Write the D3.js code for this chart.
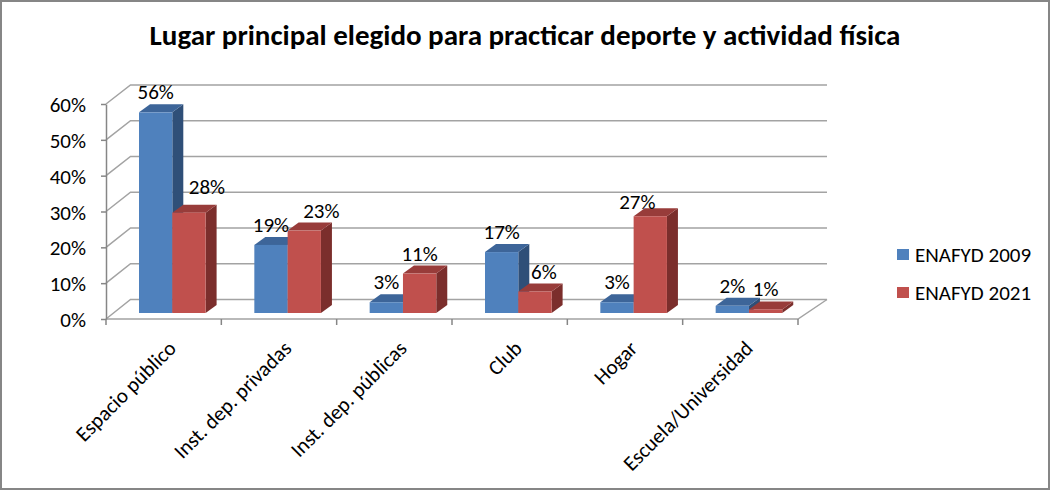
<!DOCTYPE html>
<html><head><meta charset="utf-8">
<script src="https://cdn.jsdelivr.net/npm/d3@7"></script>
<style>body{margin:0;background:#fff}</style>
</head><body><svg id="c" width="1051" height="491"></svg>
<script>
const categories = ["Espacio público","Inst. dep. privadas","Inst. dep. públicas","Club","Hogar","Escuela/Universidad"];
const series = ["ENAFYD 2009","ENAFYD 2021"];
const values2009 = [0.56,0.19,0.03,0.17,0.03,0.02];
const values2021 = [0.28,0.23,0.11,0.06,0.27,0.01];
const yTicks = [0,0.1,0.2,0.3,0.4,0.5,0.6];
const title = "Lugar principal elegido para practicar deporte y actividad física";

// label nudges for the 2021 series (layout only)
const redLabelDx = [18,17,0,9,-13,0];
const redLabelDy = [-6,0,0,0,6,0];

const svg = d3.select("#c");
const font = "Carlito, Lato, 'Liberation Sans', sans-serif";
const fs = 21;

svg.append("rect").attr("x",1).attr("y",1).attr("width",1048).attr("height",488)
  .attr("fill","#fff").attr("stroke","#868686").attr("stroke-width",2);

const xFront = d3.scaleBand().domain(categories).range([106,798]);
const xBack = d3.scaleLinear().domain([106,798]).range([130.5,827]);
const yFront = d3.scaleLinear().domain([0,0.6]).range([319,104]);
const yBack = d3.scaleLinear().domain([0,0.6]).range([299.5,85]);
const yBar = d3.scaleLinear().domain([0,0.6]).range([313,98]);

const gridC = "#a3a3a3";
const g = svg.append("g");
g.selectAll(".grid").data(yTicks).join("path")
  .attr("fill","none").attr("stroke",gridC).attr("stroke-width",1.5)
  .attr("d", t => `M106,${yFront(t)}L${xBack(106)},${yBack(t)}L${xBack(798)},${yBack(t)}`);
g.append("path").attr("fill","none").attr("stroke",gridC).attr("stroke-width",1.5)
  .attr("d",`M106,${yFront(0)}L798,${yFront(0)}L${xBack(798)},${yBack(0)}`);

const yAxis = g.append("g").attr("transform","translate(106,0)")
  .call(d3.axisLeft(yFront).tickValues(yTicks).tickFormat(d3.format(".0%")).tickSize(5).tickSizeOuter(0));
yAxis.select(".domain").attr("stroke","#868686").attr("stroke-width",1.5);
yAxis.selectAll(".tick line").attr("stroke","#868686").attr("stroke-width",1.5);
yAxis.selectAll(".tick text").attr("x",-20).attr("dy","0.36em").attr("font-family",font).attr("font-size",fs).attr("fill","#000");

const edges = d3.range(categories.length+1).map(i => 106 + i*xFront.step());
g.selectAll(".xt").data(edges).join("line")
  .attr("x1",d=>d).attr("x2",d=>d).attr("y1",319).attr("y2",325)
  .attr("stroke","#868686").attr("stroke-width",1.5);

g.selectAll(".cl").data(categories).join("text")
  .attr("transform", d => `translate(${xFront(d)+xFront.bandwidth()/2+3},339) rotate(-45)`)
  .attr("text-anchor","end").attr("dy","0.72em")
  .attr("font-family",font).attr("font-size",fs).attr("fill","#000").text(d=>d);

const w = 33.3, ddx = 11, ddy = -8;
const colors = [
  {front:"#4F81BD", top:"#3D6599", side:"#2F4F78"},
  {front:"#C0504D", top:"#983C3A", side:"#7B2E2C"}
];
const bars = [];
categories.forEach((c,i) => {
  [values2009[i], values2021[i]].forEach((v,s) => {
    bars.push({c, i, s, v, x: xFront(c) + 33 + s*w});
  });
});
const bottom = yBar(0);
const bg = g.selectAll(".bar").data(bars).join("g");
bg.append("path").attr("fill", d=>colors[d.s].side)
  .attr("d", d => { const t=yBar(d.v); return `M${d.x+w},${t}L${d.x+w+ddx},${t+ddy}L${d.x+w+ddx},${bottom+ddy}L${d.x+w},${bottom}Z`; });
bg.append("path").attr("fill", d=>colors[d.s].top)
  .attr("d", d => { const t=yBar(d.v); return `M${d.x},${t}L${d.x+w},${t}L${d.x+w+ddx},${t+ddy}L${d.x+ddx},${t+ddy}Z`; });
bg.append("rect").attr("fill", d=>colors[d.s].front)
  .attr("x", d=>d.x).attr("width", w).attr("y", d=>yBar(d.v)).attr("height", d=>bottom-yBar(d.v));

g.selectAll(".vl").data(bars).join("text")
  .attr("x", d => d.x + w/2 + (d.s ? redLabelDx[d.i] : 0))
  .attr("y", d => yBar(d.v) - 13 + (d.s ? redLabelDy[d.i] : 0))
  .attr("text-anchor","middle").attr("font-family",font).attr("font-size",fs).attr("fill","#000")
  .text(d => d3.format(".0%")(d.v));

const lg = svg.append("g");
series.forEach((s,k) => {
  lg.append("rect").attr("x",897).attr("y",249+k*38).attr("width",12).attr("height",11).attr("fill",colors[k].front);
  lg.append("text").attr("x",915).attr("y",262+k*38).attr("font-family",font).attr("font-size",fs).attr("fill","#000").text(s);
});

svg.append("text").attr("x",525).attr("y",45).attr("text-anchor","middle")
  .attr("font-family",font).attr("font-weight","bold").attr("font-size",29).attr("fill","#000").text(title);
</script></body></html>
